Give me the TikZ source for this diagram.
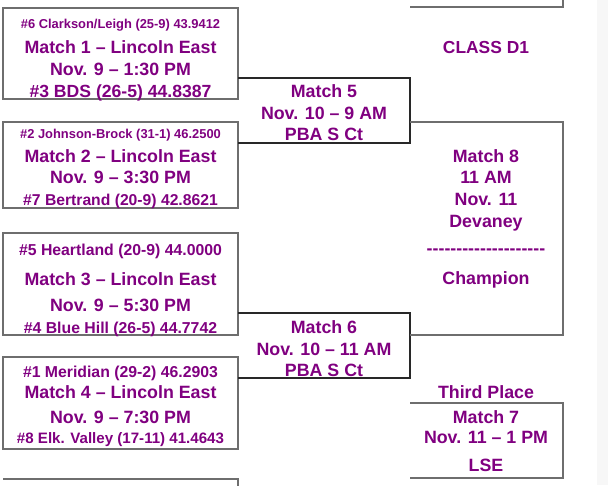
\documentclass[tikz,border=0pt]{standalone}
\usepackage{fontspec}
\newfontfamily\af{Liberation Sans}
\definecolor{txt}{RGB}{128,0,128}
\definecolor{lgray}{RGB}{110,110,110}
\definecolor{dgray}{RGB}{40,40,40}
\begin{document}
\begin{tikzpicture}[x=1pt,y=-1pt,
  lbox/.style={draw=lgray,line width=1.3pt},
  mbox/.style={draw=dgray,line width=1.2pt},
  lab/.style={text=txt,font=\af\bfseries,anchor=base,inner sep=0pt},
  s13/.style={lab,font=\af\bfseries\fontsize{12.9}{14}\selectfont},
  s15/.style={lab,font=\af\bfseries\fontsize{15.1}{16}\selectfont},
  s16/.style={lab,font=\af\bfseries\fontsize{15.8}{17}\selectfont},
  s18/.style={lab,font=\af\bfseries\fontsize{17.8}{19}\selectfont}]
\useasboundingbox (0,0) rectangle (608,485);
\fill[black!3] (597,0) rectangle (608,485);
% first-round boxes
\draw[lbox] (3,8) rectangle (238,99);
\draw[lbox] (3,122) rectangle (238,208);
\draw[lbox] (3,233) rectangle (238,335);
\draw[lbox] (3,357) rectangle (238,449);
\draw[lbox] (3,479) -- (238,479) -- (238,486);
\draw[lbox] (410,7) -- (563,7) -- (563,-1);
% second round
\draw[mbox] (238,78) -- (410,78) -- (410,143) -- (238,143);
\draw[mbox] (238,313) -- (410,313) -- (410,378) -- (238,378);
% final and third place
\draw[lbox] (410,122) -- (563,122) -- (563,335) -- (410,335);
\draw[lbox] (410,403) -- (563,403) -- (563,478) -- (410,478);
% box 1
\node[s13] (t1a) at (120.5,28) {\#6 Clarkson/Leigh (25-9) 43.9412};
\node[s18] (t1b) at (120.5,53) {Match 1 – Lincoln East};
\node[s18] (t1c) at (120.5,75) {Nov. 9 – 1:30 PM};
\node[lab,font=\af\bfseries\fontsize{17.6}{19}\selectfont] (t1d) at (120.5,97) {\#3 BDS (26-5) 44.8387};
% box 2
\node[s13] (t2a) at (120.5,138) {\#2 Johnson-Brock (31-1) 46.2500};
\node[s18] (t2b) at (120.5,162) {Match 2 – Lincoln East};
\node[s18] (t2c) at (120.5,183.5) {Nov. 9 – 3:30 PM};
\node[lab,font=\af\bfseries\fontsize{15.7}{17}\selectfont] (t2d) at (120.5,205) {\#7 Bertrand (20-9) 42.8621};
% box 3
\node[s16] (t3a) at (120.5,255) {\#5 Heartland (20-9) 44.0000};
\node[s18] (t3b) at (120.5,285) {Match 3 – Lincoln East};
\node[s18] (t3c) at (120.5,311) {Nov. 9 – 5:30 PM};
\node[s16] (t3d) at (120.5,333) {\#4 Blue Hill (26-5) 44.7742};
% box 4
\node[s16] (t4a) at (120.5,377) {\#1 Meridian (29-2) 46.2903};
\node[s18] (t4b) at (120.5,398) {Match 4 – Lincoln East};
\node[s18] (t4c) at (120.5,423) {Nov. 9 – 7:30 PM};
\node[s15] (t4d) at (120.5,443) {\#8 Elk. Valley (17-11) 41.4643};
% match 5
\node[s18] (t5a) at (324,97) {Match 5};
\node[s18] (t5b) at (324,119) {Nov. 10 – 9 AM};
\node[s18] (t5c) at (324,140) {PBA S Ct};
% match 6
\node[s18] (t6a) at (324,333) {Match 6};
\node[s18] (t6b) at (324,355) {Nov. 10 – 11 AM};
\node[s18] (t6c) at (324,376) {PBA S Ct};
% class
\node[lab,font=\af\bfseries\fontsize{17.4}{19}\selectfont] (cls) at (486,53) {CLASS D1};
% match 8
\node[s18] (t8a) at (486,162) {Match 8};
\node[s18] (t8b) at (486,183) {11 AM};
\node[s18] (t8c) at (486,205) {Nov. 11};
\node[s18] (t8d) at (486,227) {Devaney};
\node[s18] (t8e) at (486,254) {\foreach \i in {1,...,20}{-\kern0pt}};
\node[s18] (t8f) at (486,284) {Champion};
% match 7
\node[s18] (t7a) at (486,398) {Third Place};
\node[s18] (t7b) at (486,423) {Match 7};
\node[s18] (t7c) at (486,443.5) {Nov. 11 – 1 PM};
\node[s18] (t7d) at (486,471) {LSE};
\end{tikzpicture}
\end{document}
